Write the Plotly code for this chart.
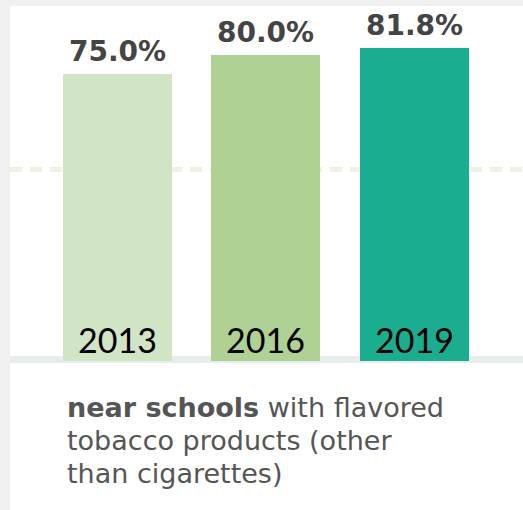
import plotly.graph_objects as go

years = ["2013", "2016", "2019"]
values = [75.0, 80.0, 81.8]
value_labels = ["75.0%", "80.0%", "81.8%"]
bar_colors = ["#d2e4c6", "#b0d194", "#1aad90"]
reference_level = 50
caption_lines = ["<b>near schools</b> with flavored", "tobacco products (other", "than cigarettes)"]

xs = list(range(len(years)))

fig = go.Figure()
fig.add_trace(go.Bar(
    x=xs, y=values, width=0.734,
    marker=dict(color=bar_colors, line=dict(width=0)),
    hoverinfo="skip", showlegend=False,
))

annotations = []
for i, (v, lab, yr) in enumerate(zip(values, value_labels, years)):
    annotations.append(dict(
        x=i, y=v, xref="x", yref="y", text=lab, showarrow=False,
        xanchor="center", yanchor="bottom", yshift=4,
        font=dict(family="DejaVu Sans", size=28, color="#444444", weight="bold"),
    ))
    annotations.append(dict(
        x=i, y=0, xref="x", yref="y", text=yr, showarrow=False,
        xanchor="center", yanchor="bottom", yshift=-1,
        font=dict(family="Lato", size=34, color="#000000"),
    ))
caption_y = [-0.1737, -0.2661, -0.3585]
for line, cy in zip(caption_lines, caption_y):
    annotations.append(dict(
        x=0.107, y=cy, xref="paper", yref="paper", text=line, showarrow=False,
        xanchor="left", yanchor="bottom", align="left",
        font=dict(family="DejaVu Sans", size=27, color="#555555"),
    ))

shapes = [
    # grey frame bands
    dict(type="rect", xref="paper", yref="paper", x0=-0.03, x1=0, y0=-0.5, y1=1.05,
         fillcolor="#f0f0f0", line=dict(width=0), layer="below"),
    dict(type="rect", xref="paper", yref="paper", x0=-0.03, x1=1.02, y0=1.0, y1=1.05,
         fillcolor="#f0f0f0", line=dict(width=0), layer="below"),
    # baseline strip
    dict(type="rect", xref="paper", yref="y", x0=0, x1=1, y0=-0.52, y1=1.3,
         fillcolor="#e5eeec", line=dict(width=0), layer="below"),
    # dashed reference line
    dict(type="line", xref="paper", yref="y", x0=0, x1=1, y0=reference_level, y1=reference_level,
         line=dict(color="#eff1e2", width=5, dash="12px,8px"), layer="below"),
]

fig.update_layout(
    width=523, height=510,
    margin=dict(l=10, r=0, t=6, b=147),
    paper_bgcolor="#ffffff", plot_bgcolor="#ffffff",
    xaxis=dict(range=[-0.724, 2.731], showgrid=False, zeroline=False,
               showticklabels=False, showline=False, fixedrange=True),
    yaxis=dict(range=[-0.522, 92.69], showgrid=False, zeroline=False,
               showticklabels=False, showline=False, fixedrange=True),
    annotations=annotations, shapes=shapes, bargap=0,
)

fig.write_html(
    "out.html",
    config=dict(displayModeBar=False),
    post_script="document.body.style.margin='0';document.body.style.overflow='hidden';",
)
